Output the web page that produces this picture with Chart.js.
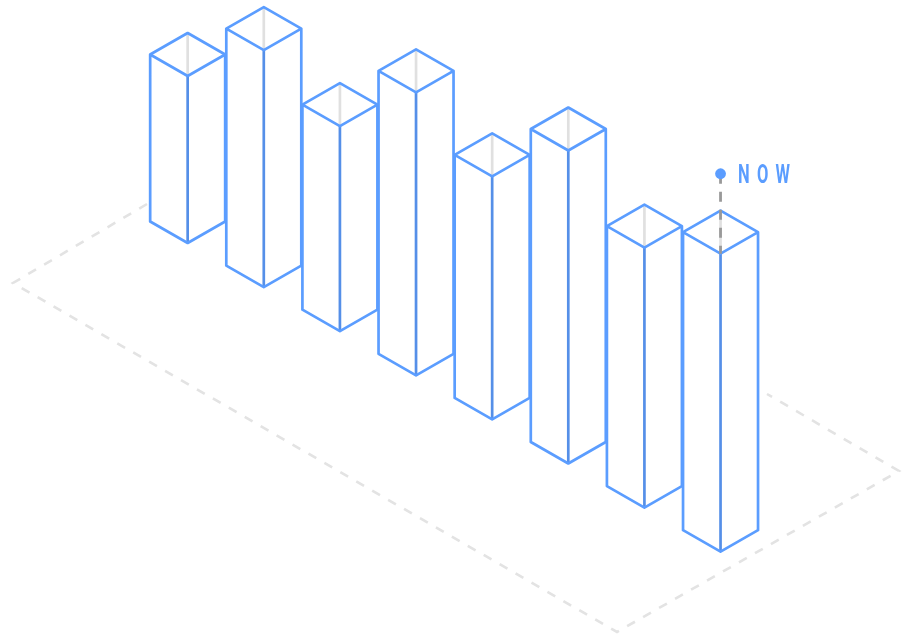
<!DOCTYPE html>
<html>
<head>
<meta charset="utf-8">
<style>
html, body { margin: 0; padding: 0; background: #fff; }
#wrap { width: 909px; height: 640px; }
</style>
<script src="https://cdn.jsdelivr.net/npm/chart.js@4"></script>
</head>
<body>
<div id="wrap"><canvas id="isoChart" width="909" height="640"></canvas></div>
<script>
// Chart data
const categories = ['1', '2', '3', '4', '5', '6', '7', '8'];
const barValues = [167, 237, 205, 283, 243, 313, 260, 298];
const nowLabel = 'NOW';
const nowIndex = 7;

// Isometric look
const halfWidth = 37.5;
const halfDepth = 21.5;
const groundOffset = -397; // first bar's front foot relative to the y axis zero
const stepDown = 44.1; // each bar sits further down the floor
const blue = '#5b9dff';
const blueDark = '#558fe8';

const drawFloor = (ctx) => {
    ctx.save();
    ctx.strokeStyle = '#e3e3e3';
    ctx.lineWidth = 2.6;
    ctx.setLineDash([9, 9.4]);
    ctx.beginPath();
    ctx.moveTo(147, 204);
    ctx.lineTo(13, 283);
    ctx.lineTo(617, 632);
    ctx.lineTo(899, 471);
    ctx.lineTo(767, 394);
    ctx.stroke();
    ctx.restore();
};

const drawPrism = (ctx, x, foot, top) => {
    const left = x - halfWidth;
    const right = x + halfWidth;
    const side = foot - halfDepth;
    const topSide = top - halfDepth;
    const back = top - halfDepth * 2;

    ctx.lineWidth = 2.7;
    ctx.lineJoin = 'round';

    // white body hides the floor and the bar behind
    ctx.fillStyle = '#fff';
    ctx.beginPath();
    ctx.moveTo(left, topSide);
    ctx.lineTo(x, back);
    ctx.lineTo(right, topSide);
    ctx.lineTo(right, side);
    ctx.lineTo(x, foot);
    ctx.lineTo(left, side);
    ctx.closePath();
    ctx.fill();

    // hidden back corner seen through the top
    ctx.strokeStyle = '#e0e0e0';
    ctx.beginPath();
    ctx.moveTo(x, back);
    ctx.lineTo(x, top);
    ctx.stroke();

    // front corner
    ctx.strokeStyle = blueDark;
    ctx.beginPath();
    ctx.moveTo(x, top);
    ctx.lineTo(x, foot);
    ctx.stroke();

    // outline and top diamond
    ctx.strokeStyle = blue;
    ctx.beginPath();
    ctx.moveTo(left, topSide);
    ctx.lineTo(x, back);
    ctx.lineTo(right, topSide);
    ctx.lineTo(right, side);
    ctx.lineTo(x, foot);
    ctx.lineTo(left, side);
    ctx.closePath();
    ctx.moveTo(left, topSide);
    ctx.lineTo(x, top);
    ctx.lineTo(right, topSide);
    ctx.stroke();
};

const drawNow = (ctx, x, top) => {
    const dotY = top - 80;
    ctx.save();
    ctx.strokeStyle = '#999';
    ctx.lineWidth = 2.8;
    ctx.setLineDash([10, 8]);
    ctx.beginPath();
    ctx.moveTo(x, dotY);
    ctx.lineTo(x, top);
    ctx.stroke();
    ctx.setLineDash([]);

    ctx.fillStyle = blue;
    ctx.beginPath();
    ctx.arc(x, dotY, 5.4, 0, Math.PI * 2);
    ctx.fill();

    // narrow letters, stretched apart
    ctx.translate(x + 17.5, dotY + 9);
    ctx.scale(0.66, 1);
    ctx.font = '700 25px Roboto';
    ctx.letterSpacing = '11px';
    ctx.textAlign = 'left';
    ctx.textBaseline = 'alphabetic';
    ctx.fillText(nowLabel, 0, 0);
    ctx.restore();
};

// Bars come from the chart's own scales, this only skews them into 3D
const isoPlugin = {
    id: 'isoBars',
    afterDatasetsDraw(chart) {
        const ctx = chart.ctx;
        const bars = chart.getDatasetMeta(0).data;
        ctx.save();
        drawFloor(ctx);
        bars.forEach((bar, i) => {
            const shift = groundOffset + stepDown * i;
            drawPrism(ctx, bar.x, bar.base + shift, bar.y + shift);
        });
        const last = bars[nowIndex];
        drawNow(ctx, last.x, last.y + groundOffset + stepDown * nowIndex);
        ctx.restore();
    }
};

new Chart(document.getElementById('isoChart'), {
    type: 'bar',
    data: {
        labels: categories,
        datasets: [{
            data: barValues,
            backgroundColor: 'rgba(0, 0, 0, 0)',
            borderWidth: 0
        }]
    },
    options: {
        responsive: false,
        animation: false,
        layout: { padding: { left: 149.6, right: 150.4, top: 0, bottom: 0 } },
        scales: {
            x: { display: false },
            y: { display: false, min: 0, max: 640 }
        },
        plugins: {
            legend: { display: false },
            tooltip: { enabled: false }
        }
    },
    plugins: [isoPlugin]
});
</script>
</body>
</html>
